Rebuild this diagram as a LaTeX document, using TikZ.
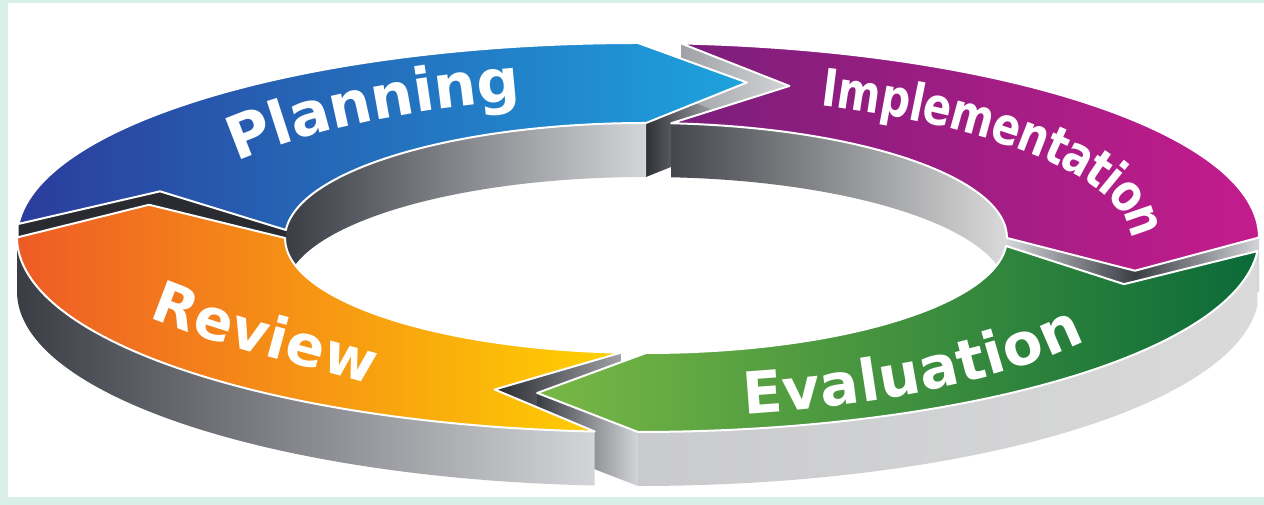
\documentclass[tikz,border=0pt]{standalone}
\usepackage{fontspec}
\usetikzlibrary{decorations.text}
\newfontfamily\ringfont{DejaVu Sans}
\newfontfamily\ringcond{DejaVu Sans}[FakeStretch=0.8]
\newcommand\plfont{\ringfont\bfseries\fontsize{60}{62}\selectfont}
\newcommand\imfont{\ringcond\bfseries\fontsize{52}{54}\selectfont}
\newcommand\evfont{\ringfont\bfseries\fontsize{58}{60}\selectfont}
\newcommand\rvfont{\ringfont\bfseries\fontsize{57}{59}\selectfont}
\definecolor{mint}{HTML}{D7EFE6}
\definecolor{plL}{HTML}{2B3C9C}\definecolor{plM}{HTML}{2C6BC2}\definecolor{plR}{HTML}{1DA3DE}
\definecolor{imL}{HTML}{7A1E7B}\definecolor{imR}{HTML}{C41C8C}
\definecolor{evL}{HTML}{79B845}\definecolor{evR}{HTML}{0A6A38}
\definecolor{rvL}{HTML}{EE5B26}\definecolor{rvM}{HTML}{F26C24}\definecolor{rvR}{HTML}{FFD200}
\definecolor{wDark}{HTML}{3A3D44}\definecolor{wMid}{HTML}{9FA1A6}\definecolor{wLight}{HTML}{D4D5D8}
\definecolor{wPale}{HTML}{DADADA}\definecolor{gapDark}{HTML}{2A2B30}
% ellipse parameters (pt; y up)
\newcommand\ringOcoord[2]{\coordinate (#1) at ({638+621*cos(#2)},{267.5+194.5*sin(#2)});}
\newcommand\ringIcoord[2]{\coordinate (#1) at ({646+361*cos(#2)},{267+115*sin(#2)});}
\newcommand\ringMcoord[2]{\coordinate (#1) at ({642+504*cos(#2)},{267.25+158.7*sin(#2)});}
\newcommand\ringTcoord[2]{\coordinate (#1) at ({642+517*cos(#2)},{267.25+162.7*sin(#2)});}
\tikzset{
  oarc/.style={x radius=621, y radius=194.5},
  iarc/.style={x radius=361, y radius=115},
  marc/.style={x radius=504, y radius=158.7},
  tarc/.style={x radius=517, y radius=162.7},
  ringface/.style={draw=white, line width=2pt, line join=round},
}
\begin{document}
\begin{tikzpicture}[x=1pt,y=1pt]
\useasboundingbox (0,0) rectangle (1264,505);
\fill[mint] (0,0) rectangle (1264,505);
\fill[white] (8,8) rectangle (1264,502);
% corner points
\ringOcoord{pl-ot}{176}\ringIcoord{pl-it}{176}\ringMcoord{pl-v}{163}
\ringOcoord{pl-oh}{90}\ringIcoord{pl-ih}{90}\ringMcoord{pl-tip}{78}
\ringOcoord{im-ot}{86}\ringIcoord{im-it}{86}\ringMcoord{im-v}{73}
\ringOcoord{im-oh}{0}\ringIcoord{im-ih}{0}\ringMcoord{im-tip}{-12}
\ringOcoord{ev-ot}{-4}\ringIcoord{ev-it}{-4}\ringMcoord{ev-v}{-17}
\ringOcoord{ev-oh}{-90}\ringIcoord{ev-ih}{-90}\ringMcoord{ev-tip}{-102}
\ringOcoord{rv-ot}{-94}\ringIcoord{rv-it}{-94}\ringMcoord{rv-v}{-107}
\ringOcoord{rv-oh}{-180}\ringIcoord{rv-ih}{-180}\ringMcoord{rv-tip}{-192}
% junction walls
\path[left color=wDark!80!black, right color=wLight] (pl-ih) -- (pl-tip) -- ([yshift=-54pt]pl-tip) -- ([yshift=-54pt]pl-ih) -- cycle;
\path[left color=wMid, right color=wLight] (im-ot) -- (im-v) -- ([yshift=-54pt]im-v) -- ([yshift=-54pt]im-ot) -- cycle;
\path[left color=wLight, right color=wDark] (im-ih) -- (im-tip) -- ([yshift=-54pt]im-tip) -- ([yshift=-54pt]im-ih) -- cycle;
\path[left color=wDark, right color=wLight] (im-tip) -- (im-oh) -- ([yshift=-54pt]im-oh) -- ([yshift=-54pt]im-tip) -- cycle;
\path[left color=gapDark, right color=wMid] (rv-v) -- (rv-it) -- ([yshift=-54pt]rv-it) -- ([yshift=-54pt]rv-v) -- cycle;
\path[left color=wDark, right color=wLight] (ev-tip) -- (ev-oh) -- ([yshift=-54pt]ev-oh) -- ([yshift=-54pt]ev-tip) -- cycle;
\path[fill=gapDark] (pl-ot) -- (pl-v) -- (pl-it) -- ([yshift=-54pt]pl-it) -- ([yshift=-54pt]pl-v) -- ([yshift=-54pt]pl-ot) -- cycle;
% inner walls (back half)
\path[left color=wDark, middle color=wMid, right color=wLight]
  (pl-ih) arc[iarc, start angle=90, end angle=176] -- ++(0,-54) arc[iarc, start angle=176, end angle=90] -- cycle;
\path[left color=wDark!85!gray, middle color=wLight, right color=wPale]
  (im-it) arc[iarc, start angle=86, end angle=0] -- ++(0,-54) arc[iarc, start angle=0, end angle=86] -- cycle;
% outer walls (front half)
\path[left color=wDark, middle color=wMid, right color=wLight]
  (rv-ot) arc[oarc, start angle=-94, end angle=-180] -- ++(0,-54) arc[oarc, start angle=-180, end angle=-94] -- cycle;
\path[left color=wLight!95!black, right color=wPale]
  (ev-ot) arc[oarc, start angle=-4, end angle=-90] -- ++(0,-54) arc[oarc, start angle=-90, end angle=-4] -- cycle;
% top faces
\path[ringface, left color=plL, middle color=plM, right color=plR]
  (pl-ot) arc[oarc, start angle=176, end angle=90] -- (pl-tip) -- (pl-ih)
  arc[iarc, start angle=90, end angle=176] -- (pl-v) -- cycle;
\path[ringface, left color=imL, right color=imR]
  (im-ot) arc[oarc, start angle=86, end angle=0] -- (im-tip) -- (im-ih)
  arc[iarc, start angle=0, end angle=86] -- (im-v) -- cycle;
\path[ringface, left color=evL, right color=evR]
  (ev-ot) arc[oarc, start angle=-4, end angle=-90] -- (ev-tip) -- (ev-ih)
  arc[iarc, start angle=-90, end angle=-4] -- (ev-v) -- cycle;
\path[ringface, left color=rvL, middle color=rvM, right color=rvR]
  (rv-ot) arc[oarc, start angle=-94, end angle=-180] -- (rv-tip) -- (rv-ih)
  arc[iarc, start angle=-180, end angle=-94] -- (rv-v) -- cycle;
% labels
\ringMcoord{pl-t0}{148}
\path[decorate, decoration={text along path, text align=center, raise=-17pt, text color=white,
  text={|\plfont|Planning}}] (pl-t0) arc[marc, start angle=148, end angle=102];
\ringMcoord{im-t0}{69}
\path[decorate, decoration={text along path, text align=center, raise=-16pt, text color=white,
  text={|\imfont|Implementation}}] (im-t0) arc[marc, start angle=69, end angle=1];
\ringTcoord{ev-t0}{-80}
\path[decorate, decoration={text along path, text align=center, raise=-17pt, text color=white,
  text={|\evfont|Evaluation}}] (ev-t0) arc[tarc, start angle=-80, end angle=-30];
\coordinate (rv-t0) at (128,217);
\coordinate (rv-t1) at (404,128);
\path[decorate, decoration={text along path, text align=center, raise=-17pt, text color=white,
  text={|\rvfont|Review}}] (rv-t0) .. controls (190,180) and (320,155) .. (rv-t1);
\end{tikzpicture}
\end{document}
